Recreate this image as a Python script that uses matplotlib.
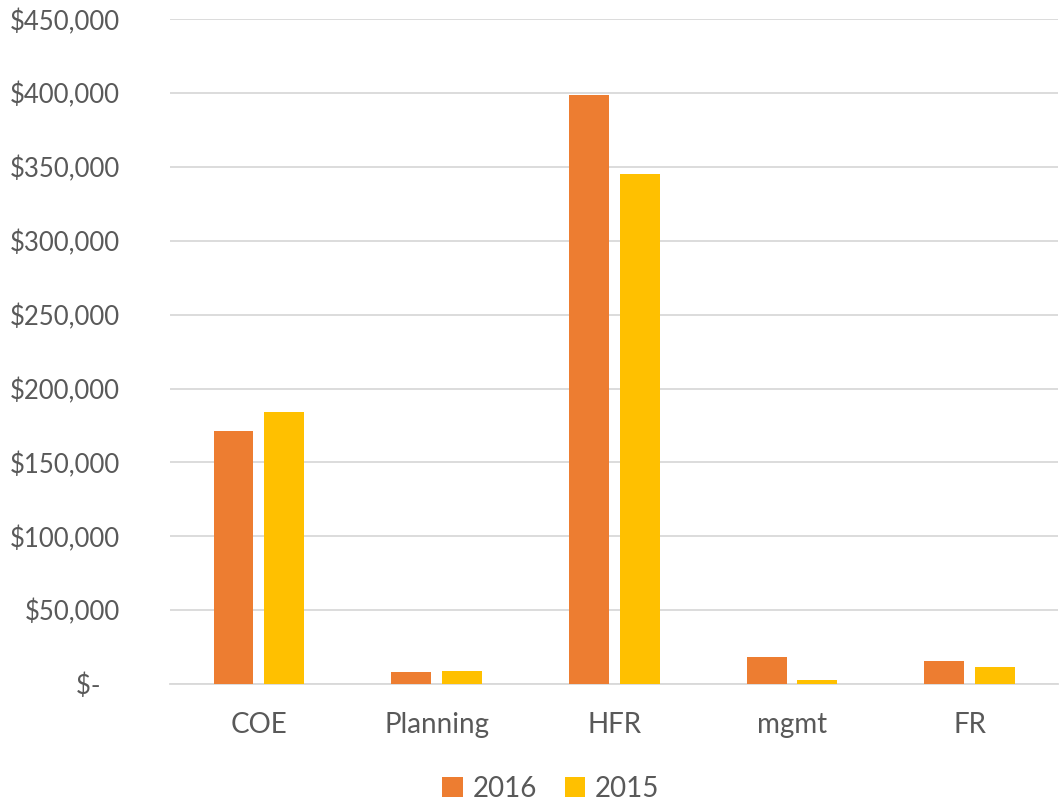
import numpy as np
import matplotlib.pyplot as plt
from matplotlib.ticker import FuncFormatter

categories = ['COE', 'Planning', 'HFR', 'mgmt', 'FR']
values_2016 = [171000, 8100, 399000, 18300, 15600]
values_2015 = [184000, 9000, 345000, 2900, 11700]
yticks = np.arange(0, 450001, 50000)

plt.rcParams['font.family'] = ['Lato', 'DejaVu Sans']

fig = plt.figure(figsize=(10.59, 8.01), dpi=100)
ax = fig.add_axes([0.1605, 0.146, 0.839, 0.830])

x = np.arange(len(categories))
w = 0.225
gap = 0.06
ax.bar(x - (w + gap) / 2, values_2016, w, color='#ED7D31', label='2016', zorder=3)
ax.bar(x + (w + gap) / 2, values_2015, w, color='#FFC000', label='2015', zorder=3)

ax.set_xlim(-0.5, len(categories) - 0.5)
ax.set_ylim(0, 450000)
ax.set_yticks(yticks)


def money(v, pos):
    if v == 0:
        return '$-   '
    return '${:,.0f}'.format(v)


ax.yaxis.set_major_formatter(FuncFormatter(money))
ax.set_xticks(x)
ax.set_xticklabels(categories)
ax.tick_params(axis='both', length=0, labelcolor='#595959')
ax.tick_params(axis='y', pad=36, labelsize=18.5)
ax.tick_params(axis='x', pad=20, labelsize=20)

ax.grid(axis='y', color='#D9D9D9', linewidth=1.3, zorder=0)
for s in ['top', 'right', 'left']:
    ax.spines[s].set_visible(False)
ax.spines['bottom'].set_color('#D9D9D9')
ax.spines['bottom'].set_linewidth(1.3)

leg = fig.legend(loc='lower center', bbox_to_anchor=(0.52, -0.032), ncol=2,
                 frameon=False, fontsize=20, handlelength=0.75, handleheight=0.75,
                 columnspacing=1.0, handletextpad=0.35)
for t in leg.get_texts():
    t.set_color('#595959')

fig.savefig('out.png', dpi=100)
